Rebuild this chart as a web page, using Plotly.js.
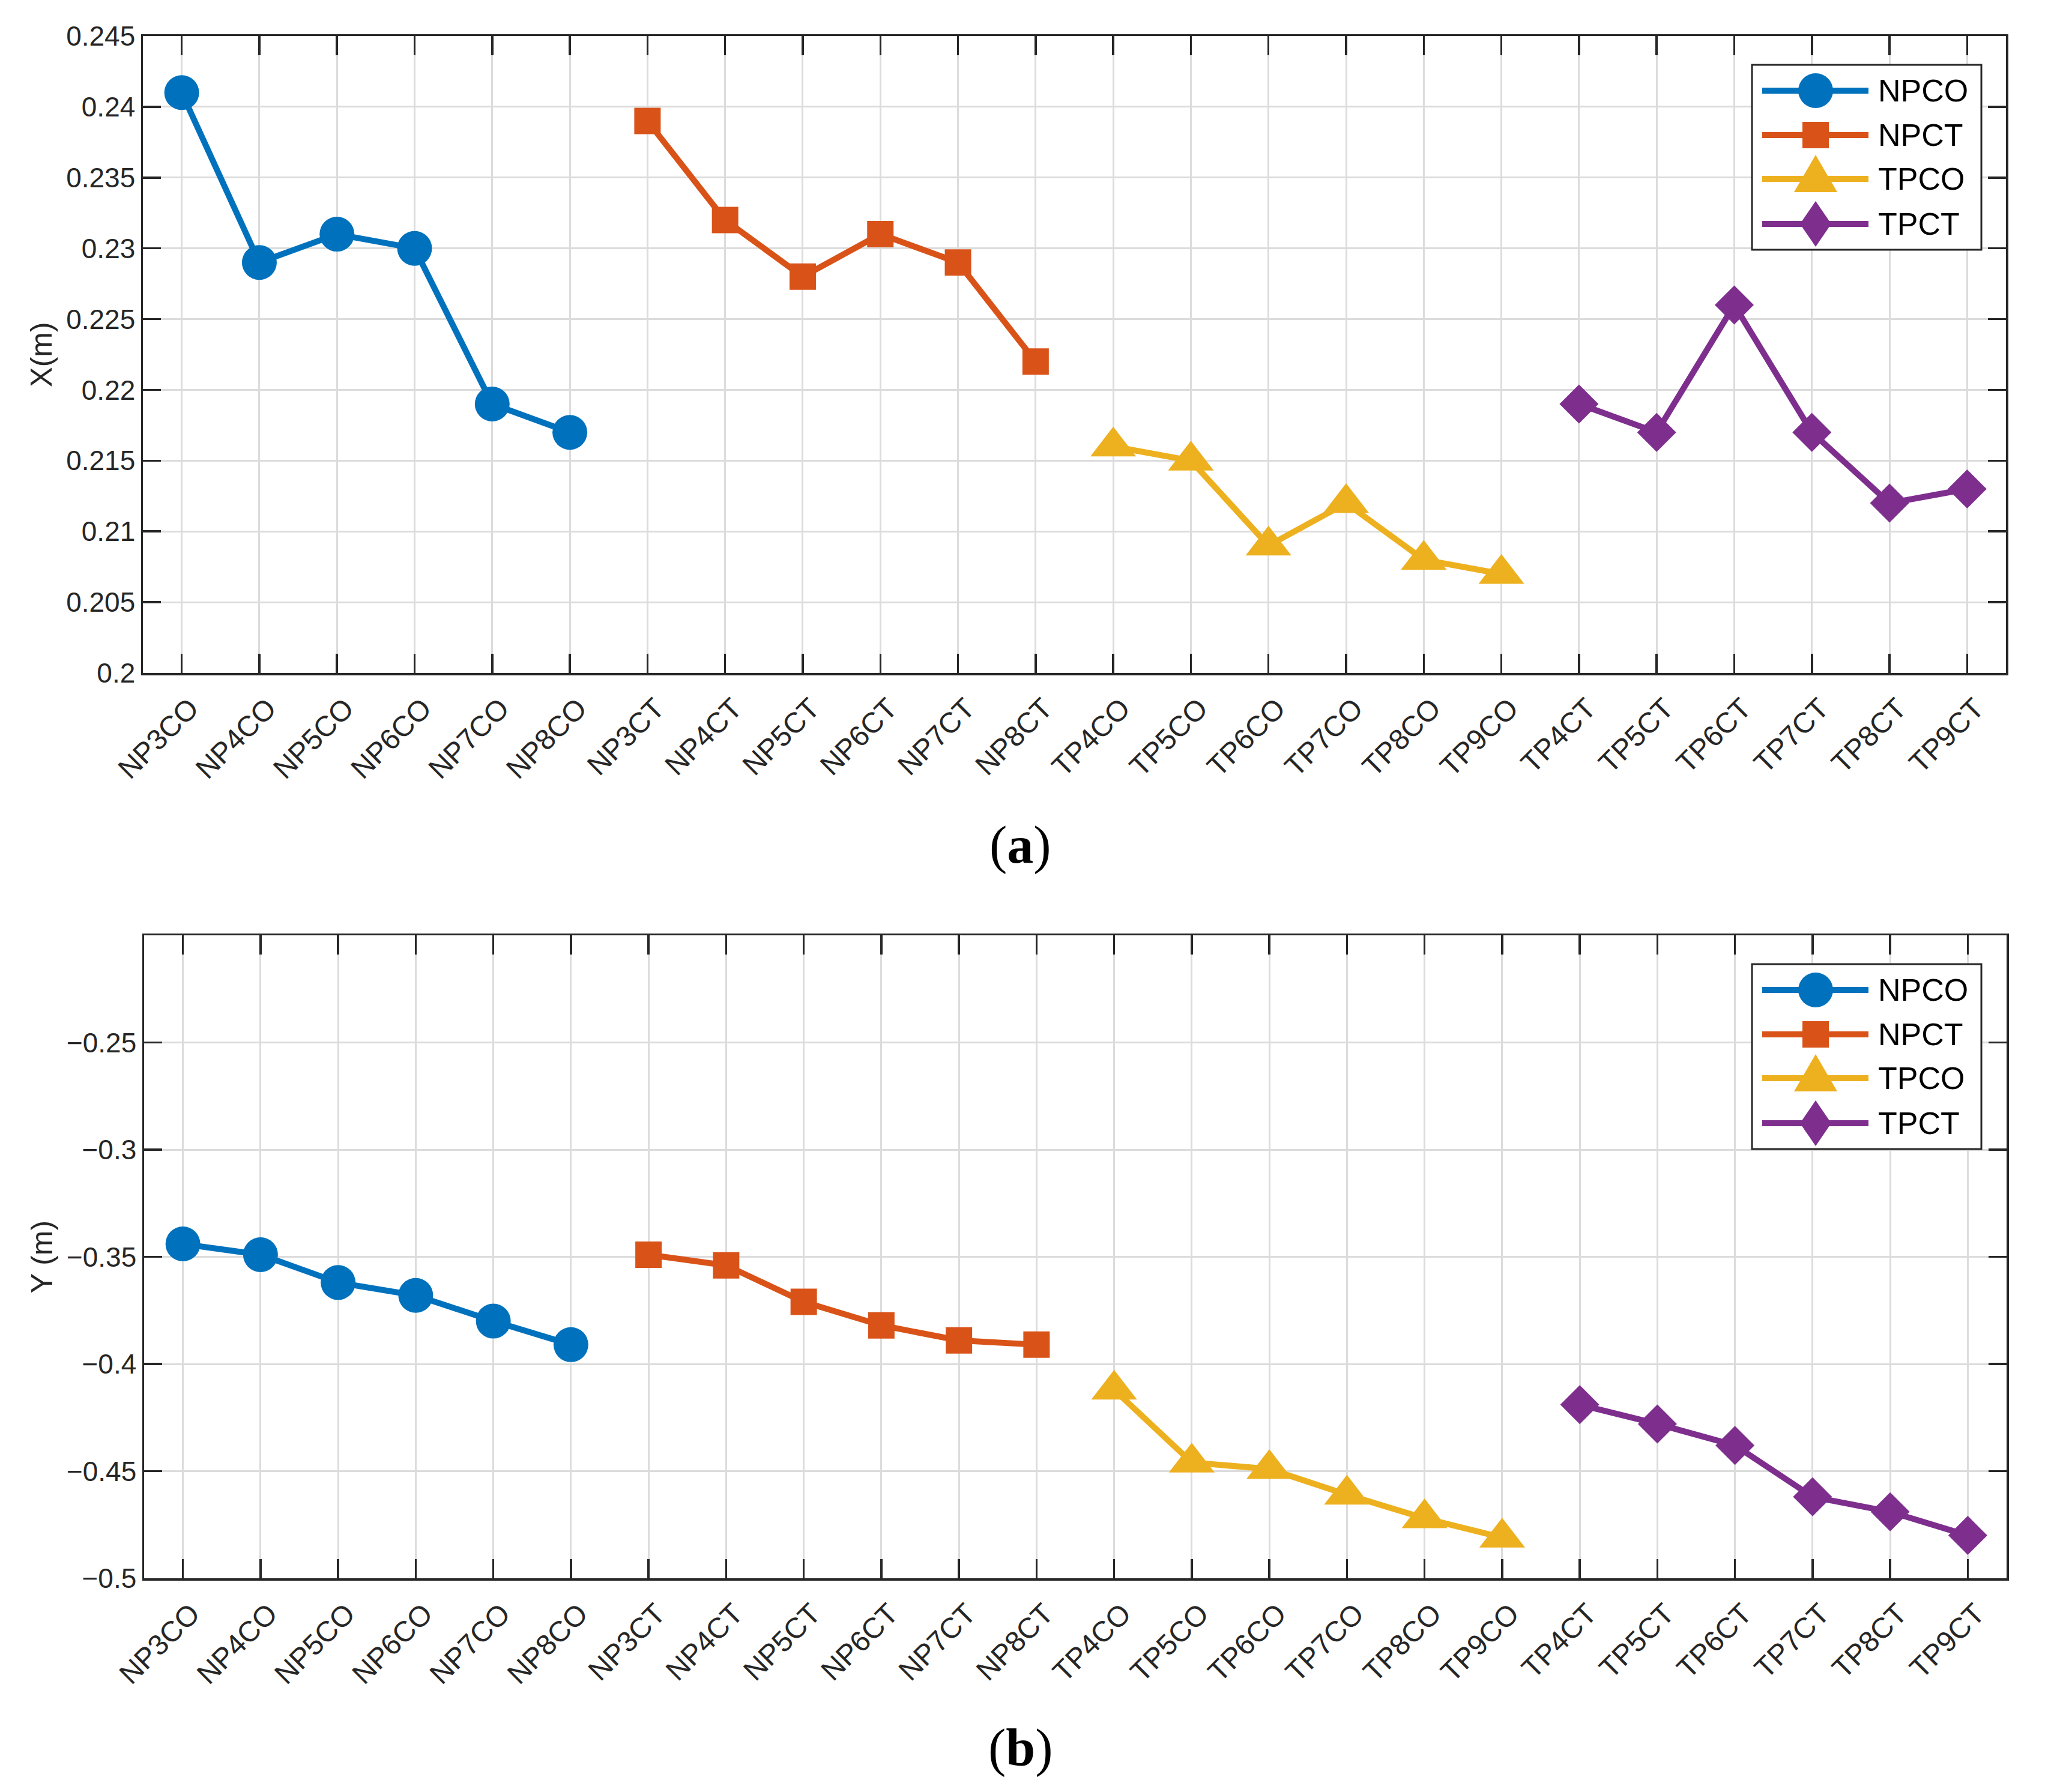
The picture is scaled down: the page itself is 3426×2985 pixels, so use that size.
<!DOCTYPE html>
<html>
<head>
<meta charset="utf-8">
<script src="https://cdn.plot.ly/plotly-3.0.1.min.js"></script>
<style>
  html, body { margin: 0; padding: 0; background: #ffffff; }
  #chart { width: 3426px; height: 2985px; }
</style>
</head>
<body>
<div id="chart"></div>
<script>
// ---------------- data ----------------
const categories = [
  'NP3CO','NP4CO','NP5CO','NP6CO','NP7CO','NP8CO',
  'NP3CT','NP4CT','NP5CT','NP6CT','NP7CT','NP8CT',
  'TP4CO','TP5CO','TP6CO','TP7CO','TP8CO','TP9CO',
  'TP4CT','TP5CT','TP6CT','TP7CT','TP8CT','TP9CT'
];
const npcoCats = ['NP3CO','NP4CO','NP5CO','NP6CO','NP7CO','NP8CO'];
const npctCats = ['NP3CT','NP4CT','NP5CT','NP6CT','NP7CT','NP8CT'];
const tpcoCats = ['TP4CO','TP5CO','TP6CO','TP7CO','TP8CO','TP9CO'];
const tpctCats = ['TP4CT','TP5CT','TP6CT','TP7CT','TP8CT','TP9CT'];

const seriesNames = ['NPCO','NPCT','TPCO','TPCT'];

// (a) X (m)
const npcoX = [0.241, 0.229, 0.231, 0.230, 0.219, 0.217];
const npctX = [0.239, 0.232, 0.228, 0.231, 0.229, 0.222];
const tpcoX = [0.216, 0.215, 0.209, 0.212, 0.208, 0.207];
const tpctX = [0.219, 0.217, 0.226, 0.217, 0.212, 0.213];

// (b) Y (m)
const npcoY = [-0.344, -0.349, -0.362, -0.368, -0.380, -0.391];
const npctY = [-0.349, -0.354, -0.371, -0.382, -0.389, -0.391];
const tpcoY = [-0.412, -0.446, -0.449, -0.461, -0.472, -0.481];
const tpctY = [-0.419, -0.428, -0.438, -0.462, -0.469, -0.480];

// tick labels
const yTickValsA = [0.2, 0.205, 0.21, 0.215, 0.22, 0.225, 0.23, 0.235, 0.24, 0.245];
const yTickTextA = ['0.2','0.205','0.21','0.215','0.22','0.225','0.23','0.235','0.24','0.245'];
const yTickValsB = [-0.5, -0.45, -0.4, -0.35, -0.3, -0.25];
const yTickTextB = ['\u22120.5','\u22120.45','\u22120.4','\u22120.35','\u22120.3','\u22120.25'];

// ---------------- styles ----------------
const W = 3426, H = 2985;
const colors = ['#0072BD', '#D95319', '#EDB120', '#7E2F8E'];
const symbols = ['circle', 'square', 'triangle-up', 'diamond'];
const msizes = [58, 44, 66, 50];
const LW = 10;
const axisColor = '#262626';
const gridColor = '#dcdcdc';
const tickFont = { family: 'Liberation Sans, Arial, sans-serif', size: 46, color: '#262626' };
const xTickFont = { family: 'Liberation Sans, Arial, sans-serif', size: 48, color: '#262626' };
const titleFont = { family: 'Liberation Sans, Arial, sans-serif', size: 50, color: '#262626' };

const catsList = [npcoCats, npctCats, tpcoCats, tpctCats];
const valsA = [npcoX, npctX, tpcoX, tpctX];
const valsB = [npcoY, npctY, tpcoY, tpctY];

const traces = [];
for (let i = 0; i < 4; i++) {
  traces.push({
    type: 'scatter', mode: 'lines+markers', name: seriesNames[i],
    x: catsList[i], y: valsA[i], xaxis: 'x', yaxis: 'y',
    line: { color: colors[i], width: LW },
    marker: { color: colors[i], symbol: symbols[i], size: msizes[i], line: { width: 0 } },
    showlegend: false, cliponaxis: false
  });
}
for (let i = 0; i < 4; i++) {
  traces.push({
    type: 'scatter', mode: 'lines+markers', name: seriesNames[i],
    x: catsList[i], y: valsB[i], xaxis: 'x2', yaxis: 'y2',
    line: { color: colors[i], width: LW },
    marker: { color: colors[i], symbol: symbols[i], size: msizes[i], line: { width: 0 } },
    showlegend: false, cliponaxis: false
  });
}

function xAxis(domain, anchor) {
  return {
    domain: domain, anchor: anchor, type: 'category',
    categoryorder: 'array', categoryarray: categories,
    range: [-0.5, 23.5],
    showline: true, linecolor: axisColor, linewidth: 3.5, mirror: 'ticks',
    ticks: 'inside', ticklen: 32, tickwidth: 3.5, tickcolor: axisColor,
    showgrid: true, gridcolor: gridColor, gridwidth: 3,
    zeroline: false, tickangle: -45, tickfont: xTickFont,
    ticklabelstandoff: 8, ticklabelshift: 14
  };
}
function yAxis(domain, anchor, range, tv, tt, title) {
  return {
    domain: domain, anchor: anchor, range: range,
    tickmode: 'array', tickvals: tv, ticktext: tt,
    showline: true, linecolor: axisColor, linewidth: 3.5, mirror: 'ticks',
    ticks: 'inside', ticklen: 30, tickwidth: 3.5, tickcolor: axisColor,
    showgrid: true, gridcolor: gridColor, gridwidth: 3,
    zeroline: false, tickfont: tickFont,
    title: { text: title, font: titleFont, standoff: 8 }
  };
}

// ---------------- custom legends (pixel helpers) ----------------
function px(x) { return x / W; }
function py(y) { return 1 - y / H; }
const shapes = [];
const annotations = [];
function addLegend(top) {
  const left = 2918, right = 3300, height = 308;
  shapes.push({ type: 'rect', xref: 'paper', yref: 'paper',
    x0: px(left), x1: px(right), y0: py(top), y1: py(top + height),
    fillcolor: '#ffffff', line: { color: axisColor, width: 3 } });
  const offs = [43, 117, 190, 265];
  const mx = 3024;
  for (let i = 0; i < 4; i++) {
    const yc = top + offs[i];
    shapes.push({ type: 'line', xref: 'paper', yref: 'paper',
      x0: px(2935), x1: px(3112), y0: py(yc), y1: py(yc),
      line: { color: colors[i], width: LW } });
    let s;
    if (i === 0) {
      s = { type: 'circle', x0: px(mx - 29), x1: px(mx + 29), y0: py(yc - 29), y1: py(yc + 29) };
    } else if (i === 1) {
      s = { type: 'rect', x0: px(mx - 22), x1: px(mx + 22), y0: py(yc - 22), y1: py(yc + 22) };
    } else if (i === 2) {
      s = { type: 'path', path: 'M' + px(mx - 36) + ',' + py(yc + 22) + ' L' + px(mx + 36) + ',' + py(yc + 22) +
            ' L' + px(mx) + ',' + py(yc - 40) + ' Z' };
    } else {
      s = { type: 'path', path: 'M' + px(mx) + ',' + py(yc - 38) + ' L' + px(mx + 26) + ',' + py(yc) +
            ' L' + px(mx) + ',' + py(yc + 38) + ' L' + px(mx - 26) + ',' + py(yc) + ' Z' };
    }
    s.xref = 'paper'; s.yref = 'paper'; s.fillcolor = colors[i]; s.line = { width: 0 };
    shapes.push(s);
    annotations.push({ xref: 'paper', yref: 'paper', x: px(3126), y: py(yc),
      xanchor: 'left', yanchor: 'middle', showarrow: false, text: seriesNames[i],
      font: { family: 'Liberation Sans, Arial, sans-serif', size: 52, color: '#000000' } });
  }
}
addLegend(108);
addLegend(1606);

annotations.push({ xref: 'paper', yref: 'paper', x: px(1699), y: py(1407), xanchor: 'center', yanchor: 'middle',
  showarrow: false, text: '(<b>a</b>)', font: { family: 'Liberation Serif, Times New Roman, serif', size: 88, color: '#000000' } });
annotations.push({ xref: 'paper', yref: 'paper', x: px(1700), y: py(2911), xanchor: 'center', yanchor: 'middle',
  showarrow: false, text: '(<b>b</b>)', font: { family: 'Liberation Serif, Times New Roman, serif', size: 88, color: '#000000' } });

const layout = {
  width: W, height: H,
  margin: { l: 0, r: 0, t: 0, b: 0 },
  paper_bgcolor: '#ffffff', plot_bgcolor: '#ffffff',
  showlegend: false,
  xaxis: xAxis([238 / W, 3341 / W], 'y'),
  yaxis: yAxis([1 - 1121 / H, 1 - 60 / H], 'x', [0.2, 0.245], yTickValsA, yTickTextA, 'X(m)'),
  xaxis2: xAxis([240 / W, 3342 / W], 'y2'),
  yaxis2: yAxis([1 - 2629 / H, 1 - 1558 / H], 'x2', [-0.5, -0.2], yTickValsB, yTickTextB, 'Y (m)'),
  shapes: shapes,
  annotations: annotations
};

Plotly.newPlot('chart', traces, layout, { staticPlot: true, displayModeBar: false });
</script>
</body>
</html>
